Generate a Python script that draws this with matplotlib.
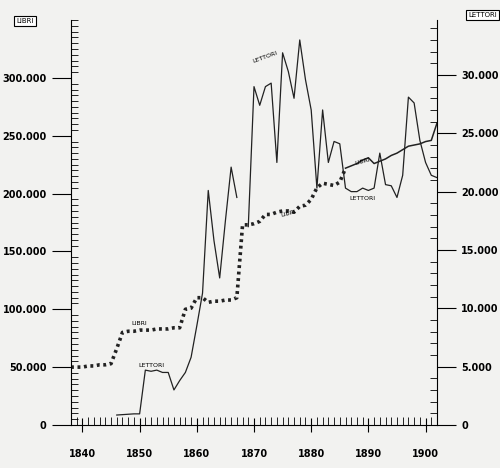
import numpy as np
import matplotlib
matplotlib.use("Agg")
import matplotlib.pyplot as plt
from matplotlib.ticker import MultipleLocator, FixedLocator

# LIBRI (left scale), dotted part then solid part
libri_years_dot = [1838, 1839, 1840, 1841, 1842, 1843, 1844, 1845, 1846, 1847, 1848, 1849, 1850,
                   1851, 1852, 1853, 1854, 1855, 1856, 1857, 1858, 1859, 1860, 1861, 1862, 1863,
                   1864, 1865, 1866, 1867, 1868, 1869, 1870, 1871, 1872, 1873, 1874, 1875, 1876,
                   1877, 1878, 1879, 1880, 1881, 1882, 1883, 1884, 1885, 1886]
libri_vals_dot = [50, 50, 50, 51, 51, 52, 52, 53, 66, 80, 81, 81, 82, 82, 82, 83, 83, 83, 84, 84,
                  100, 101, 110, 110, 106, 107, 107, 108, 108, 110, 173, 173, 174, 176, 182, 182,
                  184, 185, 185, 184, 189, 190, 195, 205, 209, 208, 207, 210, 222]
libri_years_line = [1886, 1887, 1888, 1889, 1890, 1891, 1892, 1893, 1894, 1895, 1896, 1897, 1898,
                    1899, 1900, 1901, 1902]
libri_vals_line = [222, 224, 226, 229, 231, 226, 228, 230, 233, 235, 238, 241, 242, 243, 245, 246, 261]

# LETTORI (right scale), two segments
lett_years_a = [1846, 1849, 1850, 1851, 1852, 1853, 1854, 1855, 1856, 1857, 1858, 1859, 1860,
                1861, 1862, 1863, 1864, 1865, 1866, 1867]
lett_vals_a = [850, 950, 950, 4700, 4600, 4700, 4500, 4500, 3000, 3800, 4500, 5800, 8500,
               11300, 20100, 15800, 12600, 17500, 22100, 19500]
lett_years_b = [1869, 1870, 1871, 1872, 1873, 1874, 1875, 1876, 1877, 1878, 1879, 1880, 1881,
                1882, 1883, 1884, 1885, 1886, 1887, 1888, 1889, 1890, 1891, 1892, 1893, 1894,
                1895, 1896, 1897, 1898, 1899, 1900, 1901, 1902]
lett_vals_b = [17000, 29000, 27400, 29000, 29300, 22500, 31900, 30300, 28000, 33000, 29600, 27000,
               20300, 27000, 22500, 24300, 24100, 20300, 20000, 20000, 20300, 20100, 20300, 23300,
               20600, 20500, 19500, 21400, 28100, 27600, 24400, 22500, 21400, 21200]

left_ticks = [0, 50000, 100000, 150000, 200000, 250000, 300000]
right_ticks = [0, 5000, 10000, 15000, 20000, 25000, 30000]

fig = plt.figure(figsize=(5, 4.68), dpi=100)
fig.patch.set_facecolor("#f2f2f0")
ax = fig.add_axes([0.142, 0.092, 0.732, 0.865])
ax.set_facecolor("#f2f2f0")
ax2 = ax.twinx()

ax.plot(libri_years_dot, np.array(libri_vals_dot) * 1000, ls=(0, (0.8, 1.0)), lw=2.6, color="#222")
ax.plot(libri_years_line, np.array(libri_vals_line) * 1000, lw=1.1, color="#222")
ax2.plot(lett_years_a, lett_vals_a, lw=0.9, color="#222")
ax2.plot(lett_years_b, lett_vals_b, lw=0.9, color="#222")

ax.set_xlim(1838, 1902)
ax.set_ylim(0, 350000)
ax2.set_ylim(0, 34700)

for a in (ax, ax2):
    a.spines["top"].set_visible(False)
ax.spines["right"].set_visible(False)
ax2.spines["left"].set_visible(False)
ax2.spines["bottom"].set_visible(False)

ax.xaxis.set_major_locator(FixedLocator([1840, 1850, 1860, 1870, 1880, 1890, 1900]))
ax.xaxis.set_minor_locator(MultipleLocator(1))
ax.tick_params(axis="x", which="major", direction="inout", length=10, labelsize=7, pad=12)
ax.tick_params(axis="x", which="minor", direction="in", length=6)

fmt = lambda v, p: "0" if v == 0 else f"{int(v/1000)}.000"
ax.yaxis.set_major_locator(FixedLocator(left_ticks))
ax.yaxis.set_minor_locator(MultipleLocator(5000))
ax.yaxis.set_major_formatter(fmt)
ax.tick_params(axis="y", which="major", direction="out", length=14, labelsize=7)
ax.tick_params(axis="y", which="minor", direction="in", length=5)

ax2.yaxis.set_major_locator(FixedLocator(right_ticks))
ax2.yaxis.set_minor_locator(MultipleLocator(1000))
ax2.yaxis.set_major_formatter(fmt)
ax2.tick_params(axis="y", which="major", direction="out", length=14, labelsize=7)
ax2.tick_params(axis="y", which="minor", direction="in", length=5)

for lab in ax.get_xticklabels() + ax.get_yticklabels() + ax2.get_yticklabels():
    lab.set_fontweight("bold")

box = dict(boxstyle="square,pad=0.3", fc="white", ec="black", lw=0.8)
fig.text(0.05, 0.955, "LIBRI", fontsize=5, ha="center", va="center", bbox=box)
fig.text(0.965, 0.968, "LETTORI", fontsize=5, ha="center", va="center", bbox=box)

ax.text(1850, 86000, "LIBRI", fontsize=4.5, ha="center")
ax2.text(1852, 5000, "LETTORI", fontsize=4.5, ha="center")
ax2.text(1872, 31000, "LETTORI", fontsize=4.5, ha="center", rotation=20)
ax.text(1876, 180000, "LIBRI", fontsize=4.5, ha="center", rotation=15)
ax.text(1889, 225000, "LIBRI", fontsize=4.5, ha="center", rotation=15)
ax2.text(1889, 19300, "LETTORI", fontsize=4.5, ha="center")

fig.savefig("out.png", dpi=100, facecolor=fig.get_facecolor())
